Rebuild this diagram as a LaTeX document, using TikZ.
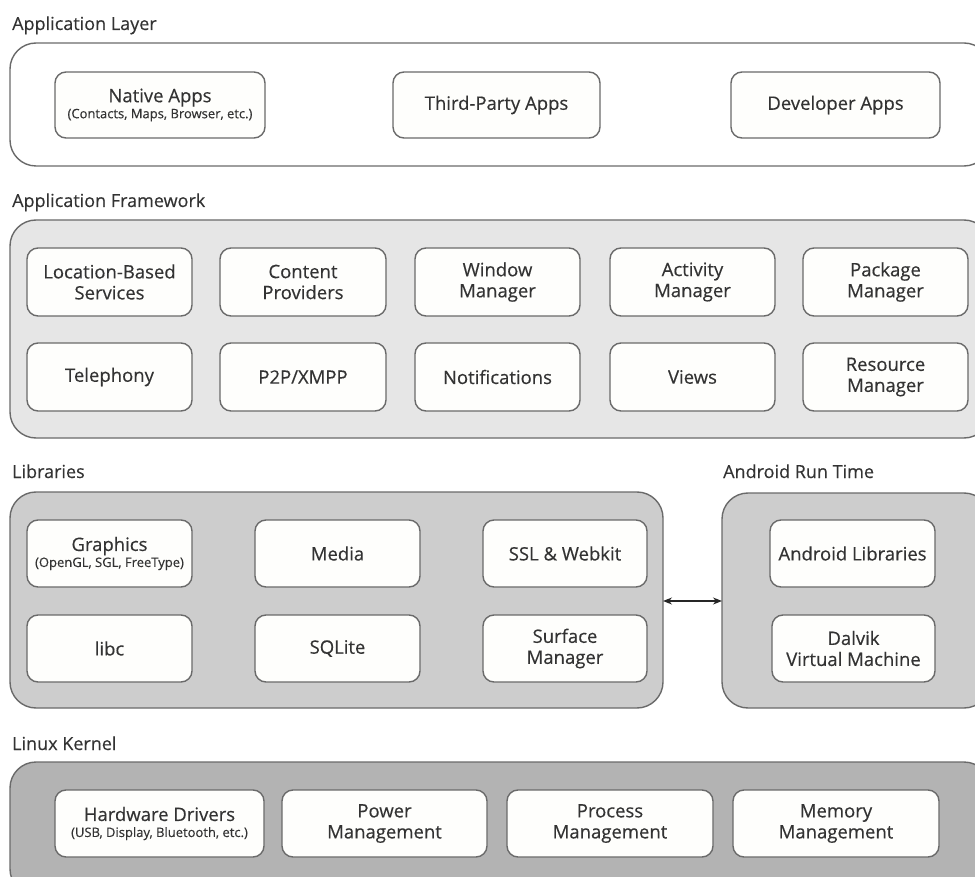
\documentclass[tikz,border=0pt]{standalone}
\usepackage{fontspec}
\setmainfont{Open Sans}
\newfontfamily\medfont[FakeBold=0.35]{Open Sans}
\usetikzlibrary{arrows.meta}
\definecolor{txt}{HTML}{333333}
\definecolor{edge}{HTML}{6A6A6A}
\definecolor{fw}{HTML}{E6E6E6}
\definecolor{lib}{HTML}{CDCDCD}
\definecolor{krn}{HTML}{B3B3B3}
\definecolor{boxw}{HTML}{FEFEFC}
\tikzset{
  outer/.style={draw=edge, line width=1.4pt, rounded corners=26pt, inner sep=0pt},
  inner/.style={draw=edge, line width=1.4pt, rounded corners=11pt, fill=boxw,
    text=txt, align=center, inner sep=0pt, font=\medfont\fontsize{18.5}{21}\selectfont},
  layerlabel/.style={anchor=base west, text=txt, inner sep=0pt, font=\medfont\fontsize{18}{21}\selectfont}
}
\newcommand{\subtxt}[1]{\\[-5pt]{\fontsize{13}{14}\selectfont #1}}
\newcommand{\boxat}[6]{% name, x1, y1, x2, y2, text
  \node[inner, minimum width={#4-#2}, minimum height={#5-#3}] (#1) at ({(#2+#4)/2},{(#3+#5)/2}) {#6};}
\begin{document}
\begin{tikzpicture}[x=1pt,y=-1pt]
\useasboundingbox (0,0) rectangle (975,877);
% labels
\node[layerlabel] (l1) at (12,30) {Application Layer};
\node[layerlabel] (l2) at (12,207) {Application Framework};
\node[layerlabel] (l3) at (12,478) {Libraries};
\node[layerlabel] (l4) at (723,478) {Android Run Time};
\node[layerlabel] (l5) at (12,750) {Linux Kernel};
% outer boxes
\draw[outer, fill=white] (10,43) rectangle (990,166);
\draw[outer, fill=fw] (10,220) rectangle (990,438);
\draw[outer, fill=lib] (10,492) rectangle (663,708);
\draw[outer, fill=lib] (722,493) rectangle (990,708);
\draw[outer, fill=krn] (10,762) rectangle (990,895);
\coordinate (libsE) at (663,601);
\coordinate (artW) at (722,601);
% application layer
\boxat{native}{55}{72}{265}{138}{Native Apps\subtxt{(Contacts, Maps, Browser, etc.)}}
\boxat{third}{393}{72}{600}{138}{Third-Party Apps}
\boxat{dev}{731}{72}{940}{138}{Developer Apps}
% framework
\boxat{loc}{27}{248}{192}{316}{Location-Based\\Services}
\boxat{cont}{220}{248}{386}{316}{Content\\Providers}
\boxat{win}{415}{248}{580}{316}{Window\\Manager}
\boxat{act}{610}{248}{775}{316}{Activity\\Manager}
\boxat{pkg}{803}{248}{968}{316}{Package\\Manager}
\boxat{tel}{27}{343}{192}{411}{Telephony}
\boxat{p2p}{220}{343}{386}{411}{P2P/XMPP}
\boxat{notif}{415}{343}{580}{411}{Notifications}
\boxat{views}{610}{343}{775}{411}{Views}
\boxat{res}{803}{343}{968}{411}{Resource\\Manager}
% libraries
\boxat{gfx}{27}{520}{192}{587}{Graphics\subtxt{(OpenGL, SGL, FreeType)}}
\boxat{media}{255}{520}{420}{587}{Media}
\boxat{ssl}{483}{520}{647}{587}{SSL \& Webkit}
\boxat{libc}{27}{615}{192}{682}{libc}
\boxat{sqlite}{255}{615}{420}{682}{SQLite}
\boxat{surf}{483}{615}{647}{682}{Surface\\Manager}
% runtime
\boxat{alib}{770}{520}{935}{587}{Android Libraries}
\boxat{dalvik}{772}{615}{935}{682}{Dalvik\\Virtual Machine}
% kernel
\boxat{hw}{55}{790}{264}{857}{Hardware Drivers\subtxt{(USB, Display, Bluetooth, etc.)}}
\boxat{pow}{282}{790}{487}{857}{Power\\Management}
\boxat{proc}{507}{790}{713}{857}{Process\\Management}
\boxat{mem}{733}{790}{939}{857}{Memory\\Management}
% arrow
\draw[line width=1.3pt, draw=black!85, {Stealth[length=9pt,width=7pt]}-{Stealth[length=9pt,width=7pt]}] (libsE) -- (artW);
\end{tikzpicture}
\end{document}
